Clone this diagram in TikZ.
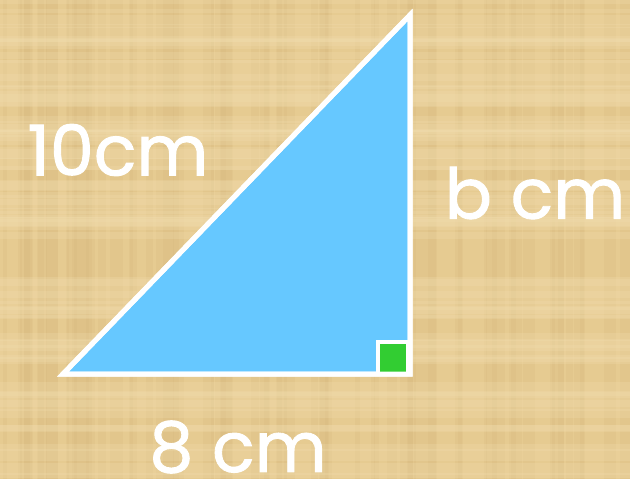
\documentclass[tikz,border=0pt]{standalone}
\usepackage{fontspec}
\setmainfont{Poppins}
\newfontfamily\lblfont[FakeBold=1.3]{Poppins}
\definecolor{papyrus}{RGB}{230,203,145}
\definecolor{papyrusdark}{RGB}{212,182,122}
\definecolor{papyruslight}{RGB}{242,222,176}
\definecolor{triblue}{RGB}{102,200,255}
\definecolor{rightgreen}{RGB}{50,205,50}
\tikzset{
  lbl/.style={text=white, font=\lblfont\fontsize{70}{70}\selectfont, inner sep=0pt},
  tri/.style={draw=white, line width=5pt, fill=triblue, line join=miter},
  marker/.style={draw=white, line width=4pt, fill=rightgreen}
}
\begin{document}
\begin{tikzpicture}[x=1pt,y=-1pt]
\useasboundingbox (0,0) rectangle (630,479);
\fill[papyrus] (0,0) rectangle (630,479);
\pgfmathsetseed{7}
\foreach \i in {1,...,70}{
  \pgfmathsetmacro{\xx}{rnd*630}
  \pgfmathsetmacro{\ww}{3+rnd*10}
  \fill[papyrusdark, opacity=0.2] (\xx,0) rectangle ++(\ww,479);
}
\foreach \i in {1,...,70}{
  \pgfmathsetmacro{\yy}{rnd*479}
  \pgfmathsetmacro{\hh}{3+rnd*10}
  \fill[papyruslight, opacity=0.25] (0,\yy) rectangle ++(630,\hh);
}
\coordinate (A) at (63,374);
\coordinate (B) at (410,374);
\coordinate (C) at (410,15);
\draw[tri] (A) -- (B) -- (C) -- cycle;
\draw[marker] (378,342) rectangle (408,374);
\draw[tri, fill=none] (A) -- (B) -- (C) -- cycle;
\node[lbl] (l10) at (118,150) {10cm};
\node[lbl] (lb) at (535,193) {b cm};
\node[lbl] (l8) at (238,447) {8 cm};
\end{tikzpicture}
\end{document}
